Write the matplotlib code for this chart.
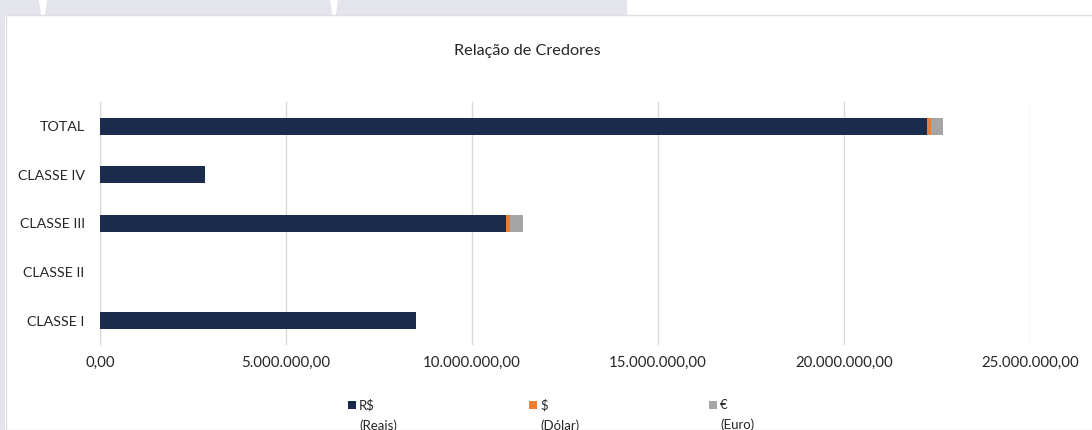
import numpy as np
import matplotlib
matplotlib.use("Agg")
from matplotlib import pyplot as plt
from matplotlib.patches import Rectangle, Polygon
from matplotlib.ticker import FuncFormatter

# Dados
categorias = ["CLASSE I", "CLASSE II", "CLASSE III", "CLASSE IV", "TOTAL"]
reais = [8490000, 0, 10910000, 2820000, 22220000]
dolar = [0, 0, 118000, 0, 118000]
euro = [0, 0, 330000, 0, 330000]
series_nomes = ["R$\n(Reais)", "$\n(Dólar)", "€\n(Euro)"]
cores = ["#1a2b4c", "#ed7d31", "#a5a5a5"]

W, H = 1092, 430
FONTE = ["Lato", "DejaVu Sans"]
plt.rcParams["font.family"] = FONTE
COR_TEXTO = "#262626"


def fx(px):
    return px / W


def fy(py):
    return 1 - py / H


fig = plt.figure(figsize=(W / 100, H / 100), dpi=100)
fig.patch.set_facecolor("white")

# fundo (faixa lilás no topo e na esquerda)
fig.patches.append(Rectangle((0, fy(15)), fx(627), 15 / H, transform=fig.transFigure,
                             facecolor="#e4e4ec", edgecolor="none", zorder=0))
fig.patches.append(Rectangle((0, 0), fx(5), 1, transform=fig.transFigure,
                             facecolor="#e4e4ec", edgecolor="none", zorder=0))
for x0 in [43, 334]:
    fig.patches.append(Polygon([(fx(x0 - 4), 1), (fx(x0 + 4), 1), (fx(x0 + 2), fy(15)), (fx(x0 - 2), fy(15))],
                               closed=True, transform=fig.transFigure, facecolor="white",
                               edgecolor="none", zorder=0))
fig.patches.append(Rectangle((fx(6), 0), 1, fy(15), transform=fig.transFigure,
                             facecolor="white", edgecolor="#e0e0e0", linewidth=1, zorder=1))

ax = fig.add_axes([fx(100), fy(345), fx(1030) - fx(100), (345 - 102) / H])
ax.set_facecolor("none")
ax.set_zorder(2)

y = np.arange(len(categorias))
esquerda = np.zeros(len(categorias))
for valores, cor in zip([reais, dolar, euro], cores):
    ax.barh(y, valores, left=esquerda, height=0.35, color=cor, edgecolor="none", zorder=3)
    esquerda += np.array(valores)

ax.set_xlim(0, 25000000)
ax.set_ylim(-0.5, len(categorias) - 0.5)
ax.set_xticks(np.arange(0, 25000001, 5000000))
ax.xaxis.set_major_formatter(FuncFormatter(lambda v, p: f"{v:,.2f}".replace(",", "X").replace(".", ",").replace("X", ".")))
ax.set_yticks(y)
ax.set_yticklabels(categorias)
ax.grid(axis="x", color="#d9d9d9", linewidth=1, zorder=0)
for lado in ["top", "right", "bottom"]:
    ax.spines[lado].set_visible(False)
ax.spines["left"].set_color("#d9d9d9")
ax.tick_params(axis="both", length=0, colors=COR_TEXTO)
ax.tick_params(axis="y", pad=11, labelsize=10.3)
ax.tick_params(axis="x", pad=8, labelsize=10.8)

fig.text(fx(527), fy(51), "Relação de Credores", ha="center", va="center", fontsize=11.7, color=COR_TEXTO)

# legenda
for xm, nome, cor in zip([348, 529, 709], series_nomes, cores):
    fig.patches.append(Rectangle((fx(xm), fy(409)), fx(8), 8 / H, transform=fig.transFigure,
                                 facecolor=cor, edgecolor="none", zorder=3))
    fig.text(fx(xm + 11), fy(399), nome, ha="left", va="top", fontsize=9.5,
             color=COR_TEXTO, linespacing=1.75)

plt.savefig("out.png", dpi=100)
